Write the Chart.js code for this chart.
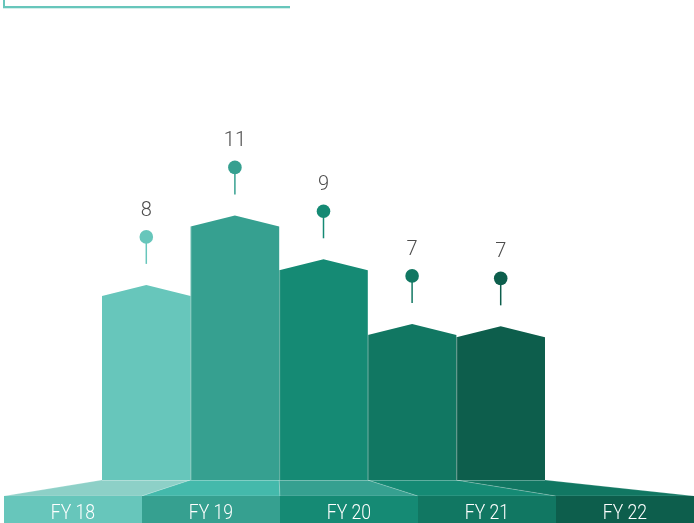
<!DOCTYPE html>
<html>
<head>
<meta charset="utf-8">
<script src="https://cdn.jsdelivr.net/npm/chart.js@4"></script>
<style>
  html, body { margin: 0; padding: 0; background: #fff; }
  #wrap { position: relative; width: 694px; height: 523px; overflow: hidden; }
  #deco {
    position: absolute; left: 3px; top: -10px; width: 285px; height: 16px;
    border-left: 2px solid #67c6bb; border-bottom: 2px solid #67c6bb;
    box-shadow: 0 1px 0 #d3efeb;
  }
</style>
</head>
<body>
<div id="wrap">
  <div id="deco"></div>
  <canvas id="grafico"></canvas>
</div>
<script>
// dados do gráfico
const categorias = ['FY 18', 'FY 19', 'FY 20', 'FY 21', 'FY 22'];
const niveis = [8, 10.85, 9.05, 6.4, 6.3];      // altura do pico de cada barra
const rotulos = ['8', '11', '9', '7', '7'];     // valor mostrado acima do pino

// cores
const coresBarra = ['#67c6bb', '#36a090', '#158a74', '#117762', '#0d5e4c'];
const coresPiso = ['#8dd0c7', '#44b9ab', '#36a090', '#158a74', '#117762'];

const PONTA = 11;       // queda do pico até o ombro da barra
const BASE_CAIXA = 496; // topo das caixas das categorias

// desenha barras com topo pontudo, piso em perspectiva, pinos e rótulos
const pluginInfografico = {
    id: 'infografico',
    afterDatasetsDraw(chart) {
        const ctx = chart.ctx;
        const meta = chart.getDatasetMeta(0);
        const W = chart.width;
        const H = chart.height;
        const esq = 4;
        const larguraCaixa = (W - esq) / categorias.length;

        ctx.save();

        // piso em perspectiva
        meta.data.forEach((bar, i) => {
            const x0 = bar.x - bar.width / 2;
            const x1 = bar.x + bar.width / 2;
            const b = bar.base;
            const c0 = esq + i * larguraCaixa;
            const c1 = c0 + larguraCaixa;
            ctx.beginPath();
            ctx.moveTo(x0, b);
            ctx.lineTo(x1, b);
            ctx.lineTo(c1, BASE_CAIXA);
            ctx.lineTo(c0, BASE_CAIXA);
            ctx.closePath();
            ctx.fillStyle = coresPiso[i];
            ctx.fill();
            ctx.strokeStyle = 'rgba(255,255,255,0.18)';
            ctx.lineWidth = 1;
            ctx.stroke();
        });

        // caixas das categorias
        categorias.forEach((cat, i) => {
            const c0 = esq + i * larguraCaixa;
            ctx.fillStyle = coresBarra[i];
            ctx.fillRect(c0, BASE_CAIXA, larguraCaixa + 0.5, H - BASE_CAIXA);
            ctx.save();
            ctx.translate(c0 + larguraCaixa / 2, 514);
            ctx.scale(0.88, 1);
            ctx.fillStyle = '#ffffff';
            ctx.font = '300 20px Roboto';
            ctx.textAlign = 'center';
            ctx.textBaseline = 'middle';
            ctx.fillText(cat, 0, 0);
            ctx.restore();
        });

        // barras
        meta.data.forEach((bar, i) => {
            const x0 = bar.x - bar.width / 2;
            const x1 = bar.x + bar.width / 2;
            ctx.beginPath();
            ctx.moveTo(x0, bar.base);
            ctx.lineTo(x0, bar.y + PONTA);
            ctx.lineTo(bar.x, bar.y);
            ctx.lineTo(x1, bar.y + PONTA);
            ctx.lineTo(x1, bar.base);
            ctx.closePath();
            ctx.fillStyle = coresBarra[i];
            ctx.fill();
            if (i > 0) {
                ctx.beginPath();
                ctx.moveTo(x0 + 0.5, bar.base);
                ctx.lineTo(x0 + 0.5, bar.y + PONTA);
                ctx.strokeStyle = 'rgba(255,255,255,0.25)';
                ctx.lineWidth = 1;
                ctx.stroke();
            }
            // linha clara na base
            ctx.fillStyle = 'rgba(255,255,255,0.25)';
            ctx.fillRect(x0, bar.base, bar.width, 1);
        });

        // pinos e rótulos
        meta.data.forEach((bar, i) => {
            const cor = coresBarra[i];
            ctx.beginPath();
            ctx.moveTo(bar.x, bar.y - 21);
            ctx.lineTo(bar.x, bar.y - 47);
            ctx.strokeStyle = cor;
            ctx.lineWidth = 1.5;
            ctx.stroke();

            ctx.beginPath();
            ctx.arc(bar.x, bar.y - 48, 6.8, 0, Math.PI * 2);
            ctx.fillStyle = cor;
            ctx.fill();

            ctx.fillStyle = '#4d4d4d';
            ctx.font = '300 20px Roboto';
            ctx.textAlign = 'center';
            ctx.textBaseline = 'middle';
            ctx.fillText(rotulos[i], bar.x, bar.y - 74);
        });

        ctx.restore();
    }
};

new Chart(document.getElementById('grafico'), {
    type: 'bar',
    data: {
        labels: categorias,
        datasets: [{
            data: niveis,
            backgroundColor: 'rgba(0,0,0,0)',
            barPercentage: 1,
            categoryPercentage: 1
        }]
    },
    options: {
        responsive: true,
        maintainAspectRatio: false,
        animation: false,
        layout: {
            padding: { left: 102, right: 149, top: 41, bottom: 43 }
        },
        scales: {
            x: { display: false },
            y: { display: false, min: 0, max: 18 }
        },
        plugins: {
            legend: { display: false },
            tooltip: { enabled: false }
        }
    },
    plugins: [pluginInfografico]
});
</script>
</body>
</html>
